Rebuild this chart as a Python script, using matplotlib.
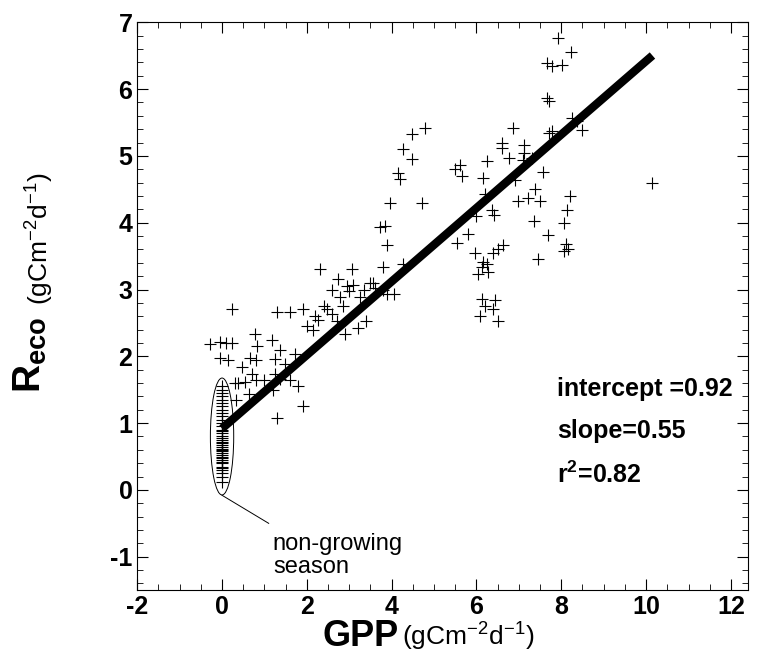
import matplotlib
matplotlib.use("Agg")
import matplotlib.pyplot as plt
from matplotlib import patches
from matplotlib.ticker import MultipleLocator

gpp_grow = [4.78, 4.49, 4.26, 4.47, 4.14, 4.19, 5.6, 5.65, 3.95, 4.71, 3.72, 3.84, 3.88,
            2.31, 3.06, 3.79, 4.26, 2.73, 2.59, 3.08, 2.78, 3.25, 3.55, 3.79, 3.9, 4.05,
            2.85, 1.9, 1.29, 1.6, 0.24, 2.47, 2.59, 2.7, 2.26, 2.14, 2.89, 3.2, 3.4,
            -0.28, -0.05, 0.24, 0.78, 0.82, 1.17, 1.37, -0.05, 0.65, 0.8, 1.26, 1.73, 1.49,
            0.47, 0.71, 1.25, 1.0, 0.8, 0.38, 0.55, 1.37, 1.6, 1.8, 1.2, 0.63, 0.33, 1.9,
            1.29, 2.95, 3.0, 3.35, 3.5, 2.0, 2.2, 2.4, 3.6, 0.1, 0.15, 0.3,
            7.93, 8.24, 7.67, 7.79, 8.02, 7.67, 7.7, 8.26, 8.38, 8.49, 7.7, 7.78, 6.85,
            6.61, 6.61, 7.12, 7.12, 6.77, 7.1, 7.3, 6.25, 6.16, 6.91, 7.57, 7.37, 6.99,
            7.22, 7.49, 8.2, 6.2, 6.36, 6.42, 7.35, 8.13, 8.06, 5.81, 7.69, 8.1, 8.17,
            8.06, 5.96, 6.39, 6.5, 6.62, 7.45, 6.16, 6.24, 6.12, 6.04, 6.28, 6.12, 6.43,
            6.2, 6.4, 6.08, 6.51, 10.15, 5.5, 5.55, 6.0]
reco_grow = [5.41, 5.33, 5.11, 4.96, 4.74, 4.65, 4.87, 4.7, 4.29, 4.29, 3.94, 3.95, 3.67,
             3.31, 3.31, 3.34, 3.38, 3.16, 2.99, 3.07, 2.89, 2.89, 3.09, 2.99, 2.93, 2.93,
             2.76, 2.71, 2.66, 2.66, 2.71, 2.71, 2.63, 2.53, 2.54, 2.39, 2.33, 2.43, 2.53,
             2.18, 2.22, 2.2, 2.33, 2.15, 2.25, 2.1, 1.98, 1.97, 1.94, 1.96, 2.04, 1.89,
             1.84, 1.73, 1.73, 1.65, 1.65, 1.6, 1.62, 1.66, 1.65, 1.55, 1.5, 1.44, 1.34, 1.25,
             1.07, 3.05, 2.98, 3.0, 3.1, 2.45, 2.6, 2.75, 3.02, 2.2, 1.95, 1.6,
             6.77, 6.56, 6.39, 6.35, 6.36, 5.86, 5.82, 5.56, 5.52, 5.39, 5.35, 5.38, 5.41,
             5.19, 5.12, 5.17, 5.05, 4.97, 4.94, 4.97, 4.93, 4.67, 4.64, 4.76, 4.5, 4.32,
             4.37, 4.32, 4.4, 4.43, 4.19, 4.11, 4.03, 4.19, 3.99, 3.83, 3.81, 3.68, 3.6,
             3.58, 3.54, 3.54, 3.6, 3.66, 3.45, 3.41, 3.38, 3.33, 3.23, 3.26, 2.86, 2.84,
             2.76, 2.71, 2.6, 2.53, 4.59, 4.8, 3.7, 4.1]
reco_dormant = [0.12, 0.2, 0.25, 0.3, 0.35, 0.4, 0.42, 0.45, 0.5, 0.52, 0.55, 0.6, 0.62,
                0.65, 0.7, 0.72, 0.75, 0.8, 0.85, 0.9, 0.95, 1.0, 1.05, 1.1, 1.15, 1.2,
                1.25, 1.3, 1.35, 1.4, 1.45, 1.5, 1.55, 0.33, 0.48, 0.58, 0.68, 0.78, 0.88]
gpp_dormant = [0.0] * len(reco_dormant)

intercept = 0.92
slope = 0.55
fit_x = [0.0, 10.15]

plt.rcParams["axes.unicode_minus"] = False
plt.rcParams["mathtext.fontset"] = "custom"
plt.rcParams["mathtext.rm"] = "Liberation Sans"
plt.rcParams["mathtext.bf"] = "Liberation Sans:bold"
plt.rcParams["mathtext.it"] = "Liberation Sans:italic"

bold = {"family": "Liberation Sans", "weight": "bold"}

fig = plt.figure(figsize=(7.71, 6.55), dpi=100)
ax = fig.add_axes([0.178, 0.099, 0.792, 0.867])

ax.scatter(gpp_grow, reco_grow, marker="+", s=80, c="k", linewidths=0.8)
ax.scatter(gpp_dormant, reco_dormant, marker="+", s=80, c="k", linewidths=0.8)
ax.plot(fit_x, [intercept + slope * x for x in fit_x], c="k", lw=6, solid_capstyle="butt")

ax.add_patch(patches.Ellipse((0.0, 0.8), 0.55, 1.75, fill=False, lw=0.7, ec="k"))
ax.plot([0.0, 1.1], [-0.08, -0.5], c="k", lw=0.7)
ax.text(1.2, -0.98, "non-growing\nseason", family="Liberation Sans", fontsize=17,
        va="center", linespacing=1.05)

ax.text(7.9, 1.4, "intercept =0.92", fontsize=18, **bold)
ax.text(7.9, 0.78, "slope=0.55", fontsize=18, **bold)
ax.text(7.9, 0.1, "r$^{\\mathbf{2}}$=0.82", fontsize=18, **bold)

ax.set_xlim(-2, 12.4)
ax.set_ylim(-1.5, 7)
ax.xaxis.set_major_locator(MultipleLocator(2))
ax.xaxis.set_minor_locator(MultipleLocator(0.5))
ax.yaxis.set_major_locator(MultipleLocator(1))
ax.yaxis.set_minor_locator(MultipleLocator(0.2))
ax.tick_params(which="both", direction="in", top=True, right=True)
ax.tick_params(which="major", length=8, labelsize=18)
ax.tick_params(which="minor", length=4)
for lab in ax.get_xticklabels() + ax.get_yticklabels():
    lab.set_fontfamily("Liberation Sans")
    lab.set_fontweight("bold")

fig.text(0.418, 0.028, "GPP", fontsize=26, ha="left", va="center", **bold)
fig.text(0.522, 0.028, "(gCm$^{-2}$d$^{-1}$)", fontsize=19, ha="left", va="center",
         family="Liberation Sans")
fig.text(0.04, 0.40, "R$_{\\mathbf{eco}}$", fontsize=28, rotation=90, ha="center",
         va="bottom", **bold)
fig.text(0.052, 0.535, "(gCm$^{-2}$d$^{-1}$)", fontsize=19, rotation=90, ha="center",
         va="bottom", family="Liberation Sans")

fig.savefig("out.png")
